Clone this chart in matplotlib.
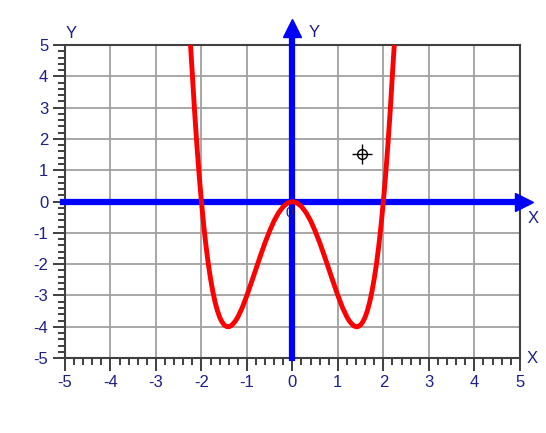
import numpy as np
import matplotlib.pyplot as plt

# curve
xs = [-2.24, -2.2, -2.15, -2.1, -2.05, -2.0, -1.95, -1.9, -1.85, -1.8, -1.75, -1.7, -1.65,
      -1.6, -1.55, -1.5, -1.45, -1.4, -1.35, -1.3, -1.25, -1.2,
      -1.1, -1.0, -0.9, -0.8, -0.7, -0.6, -0.5, -0.4, -0.3, -0.2, -0.1, 0.0,
      0.1, 0.2, 0.3, 0.4, 0.5, 0.6, 0.7, 0.8, 0.9, 1.0, 1.1,
      1.2, 1.25, 1.3, 1.35, 1.4, 1.45, 1.5, 1.55, 1.6,
      1.65, 1.7, 1.75, 1.8, 1.85, 1.9, 1.95, 2.0, 2.05, 2.1, 2.15, 2.2, 2.24]
ys = [5.0, 4.07, 2.88, 1.81, 0.85, 0.0, -0.75, -1.41, -1.98, -2.46, -2.87, -3.21, -3.48,
      -3.69, -3.84, -3.94, -3.99, -4.0, -3.97, -3.9, -3.81, -3.69,
      -3.38, -3.0, -2.58, -2.15, -1.72, -1.31, -0.94, -0.61, -0.35, -0.16, -0.04, 0.0,
      -0.04, -0.16, -0.35, -0.61, -0.94, -1.31, -1.72, -2.15, -2.58, -3.0, -3.38,
      -3.69, -3.81, -3.9, -3.97, -4.0, -3.99, -3.94, -3.84, -3.69,
      -3.48, -3.21, -2.87, -2.46, -1.98, -1.41, -0.75, 0.0, 0.85, 1.81, 2.88, 4.07, 5.0]
ticks = [-5, -4, -3, -2, -1, 0, 1, 2, 3, 4, 5]
tick_labels = ['-5', '-4', '-3', '-2', '-1', '0', '1', '2', '3', '4', '5']
cursor = (1.54, 1.53)

navy = '#1e1e8c'
fam = ['Liberation Sans Narrow', 'DejaVu Sans Condensed', 'Liberation Sans']

fig = plt.figure(figsize=(5.46, 4.33), dpi=100)
ax = fig.add_axes([0.119, 0.173, 0.833, 0.723])
ax.set_xlim(-5, 5)
ax.set_ylim(-5, 5)

ax.set_xticks(ticks)
ax.set_yticks(ticks)
ax.set_xticklabels(tick_labels, family=fam, fontsize=12, color=navy)
ax.set_yticklabels(tick_labels, family=fam, fontsize=12, color=navy)
ax.set_xticks(np.arange(-5, 5.01, 0.2), minor=True)
ax.set_yticks(np.arange(-5, 5.01, 0.2), minor=True)
ax.tick_params(which='major', length=9, width=1.3, color='#303030', pad=3)
ax.tick_params(which='minor', length=5, width=1.3, color='#303030')
ax.grid(True, which='major', color='#a0a0a0', lw=1.3)
for s in ax.spines.values():
    s.set_color('#404040')
    s.set_linewidth(1.5)

# blue axes with arrows
ax.plot([-5.05, 5.05], [0, 0], color='#0000ff', lw=4.5, clip_on=False, zorder=3)
ax.plot([5.1], [0], marker='>', ms=13, color='#0000ff', clip_on=False, zorder=3)
ax.plot([0, 0], [-5, 5.5], color='#0000ff', lw=4.5, clip_on=False, zorder=3)
ax.plot([0], [5.56], marker='^', ms=13, color='#0000ff', clip_on=False, zorder=3)

ax.plot(xs, ys, color='#ff0000', lw=3.5, zorder=4, solid_joinstyle='round')

ax.text(-4.98, 5.38, 'Y', color=navy, family=fam, fontsize=12, ha='left', va='center', clip_on=False)
ax.text(0.35, 5.4, 'Y', color=navy, family=fam, fontsize=12, ha='left', va='center', clip_on=False)
ax.text(5.3, -0.55, 'X', color=navy, family=fam, fontsize=12, ha='center', va='center', clip_on=False)
ax.text(5.27, -5.0, 'X', color=navy, family=fam, fontsize=12, ha='center', va='center', clip_on=False)
ax.text(-0.07, -0.35, '0', color=navy, family=fam, fontsize=10, ha='center', va='center', zorder=3)

ax.plot([cursor[0]], [cursor[1]], marker='o', ms=7, mfc='none', mec='black', mew=1)
ax.plot([cursor[0]], [cursor[1]], marker='+', ms=14, color='black', mew=1)

fig.savefig('out.png', dpi=100)
